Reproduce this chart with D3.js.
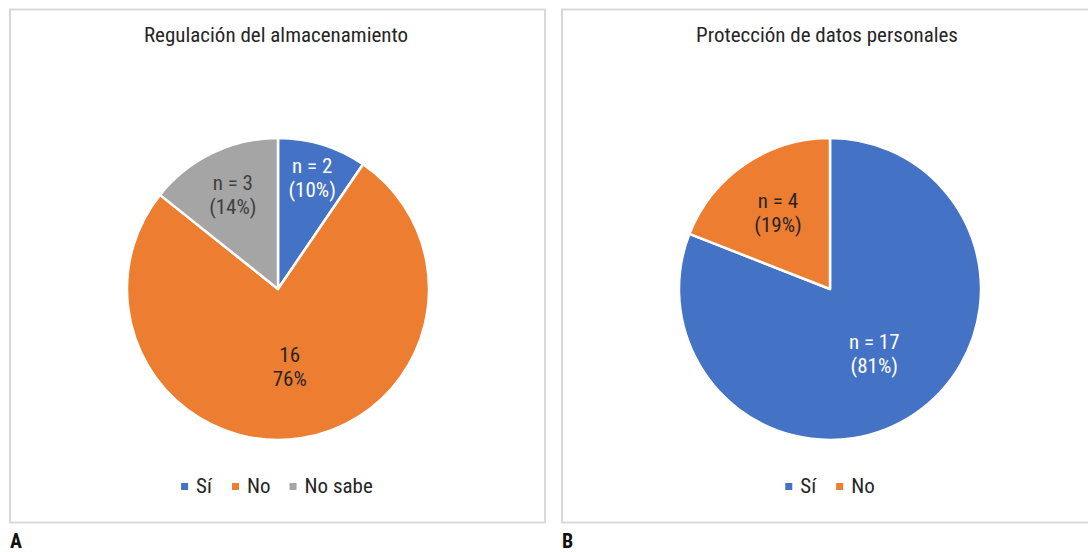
<!DOCTYPE html>
<html>
<head>
<meta charset="utf-8">
<script src="https://cdn.jsdelivr.net/npm/d3@7"></script>
<style>
  html, body { margin: 0; padding: 0; background: #ffffff; }
  svg { display: block; }
  text { font-family: "Liberation Sans Narrow", "Arial Narrow", "Roboto Condensed", "Liberation Sans", sans-serif; }
</style>
</head>
<body>
<svg id="chart" width="1088" height="552"></svg>
<script>
// ---- Data ----
const titleA = "Regulación del almacenamiento";
const categoriesA = ["Sí", "No", "No sabe"];
const valuesA = [2, 16, 3];
const labelsA = [["n = 2", "(10%)"], ["16", "76%"], ["n = 3", "(14%)"]];

const titleB = "Protección de datos personales";
const categoriesB = ["Sí", "No"];
const valuesB = [17, 4];
const labelsB = [["n = 17", "(81%)"], ["n = 4", "(19%)"]];

const panelLetters = ["A", "B"];

// ---- Styles ----
const colorMap = { "Sí": "#4472C4", "No": "#ED7D31", "No sabe": "#A5A5A5" };
const labelColor = { "Sí": "#ffffff", "No": "#262626", "No sabe": "#404040" };
const textColor = "#262626";

const svg = d3.select("#chart");

function drawPanel(cfg) {
  const g = svg.append("g");
  g.append("rect")
    .attr("x", cfg.x).attr("y", 9.5)
    .attr("width", cfg.w).attr("height", 513)
    .attr("fill", "#ffffff")
    .attr("stroke", "#d9d9d9")
    .attr("stroke-width", 2);

  g.append("text")
    .attr("x", cfg.titleX).attr("y", 42)
    .attr("text-anchor", "middle")
    .attr("fill", textColor)
    .attr("font-size", 21)
    .text(cfg.title);

  const r = 151;
  const cx = cfg.cx, cy = 289;
  const pie = d3.pie().sort(null).value(d => d.v);
  const arcs = pie(cfg.cats.map((c, i) => ({ c, v: cfg.vals[i], lab: cfg.labels[i] })));
  const arc = d3.arc().innerRadius(0).outerRadius(r);

  const pg = g.append("g").attr("transform", `translate(${cx},${cy})`);
  pg.selectAll("path.slice").data(arcs).join("path")
    .attr("class", "slice")
    .attr("d", arc)
    .attr("fill", d => colorMap[d.data.c])
    .attr("stroke", "#ffffff")
    .attr("stroke-width", 2.5)
    .attr("stroke-linejoin", "round");

  pg.selectAll("text.lab").data(arcs).join("text")
    .attr("class", "lab")
    .attr("text-anchor", "middle")
    .attr("fill", d => labelColor[d.data.c])
    .attr("font-size", 21)
    .each(function(d) {
      const deg = (d.endAngle - d.startAngle) * 180 / Math.PI;
      // best-fit style placement: narrower slices push labels further out
      const f = deg > 180 ? 0.52 : (0.925 - 0.00457 * deg);
      const lr = f * r;
      const [lx, ly] = d3.arc().innerRadius(lr).outerRadius(lr).centroid(d);
      const t = d3.select(this);
      t.append("tspan").attr("x", lx).attr("y", ly - 5).text(d.data.lab[0]);
      t.append("tspan").attr("x", lx).attr("y", ly + 19).text(d.data.lab[1]);
    });

  // legend
  const lg = g.append("g");
  const items = lg.selectAll("g.item").data(cfg.cats).join("g").attr("class", "item");
  items.append("rect")
    .attr("width", 7).attr("height", 7)
    .attr("y", 483)
    .attr("fill", d => colorMap[d]);
  items.append("text")
    .attr("x", 15).attr("y", 493)
    .attr("fill", textColor)
    .attr("font-size", 21)
    .text(d => d);
  let xPos = 0;
  const gap = 19;
  items.each(function() {
    const w = this.getBBox().width;
    d3.select(this).attr("transform", `translate(${xPos},0)`);
    xPos += w + gap;
  });
  const totalW = xPos - gap;
  lg.attr("transform", `translate(${cfg.legendCenter - totalW / 2},0)`);

  svg.append("text")
    .attr("x", cfg.x).attr("y", 548)
    .attr("fill", "#111")
    .attr("font-size", 20)
    .attr("font-weight", "bold")
    .text(cfg.letter);
}

drawPanel({ x: 10, w: 535, title: titleA, titleX: 276, cx: 278, cats: categoriesA, vals: valuesA, labels: labelsA, legendCenter: 277, letter: panelLetters[0] });
drawPanel({ x: 562, w: 535, title: titleB, titleX: 827, cx: 830, cats: categoriesB, vals: valuesB, labels: labelsB, legendCenter: 830, letter: panelLetters[1] });
</script>
</body>
</html>
